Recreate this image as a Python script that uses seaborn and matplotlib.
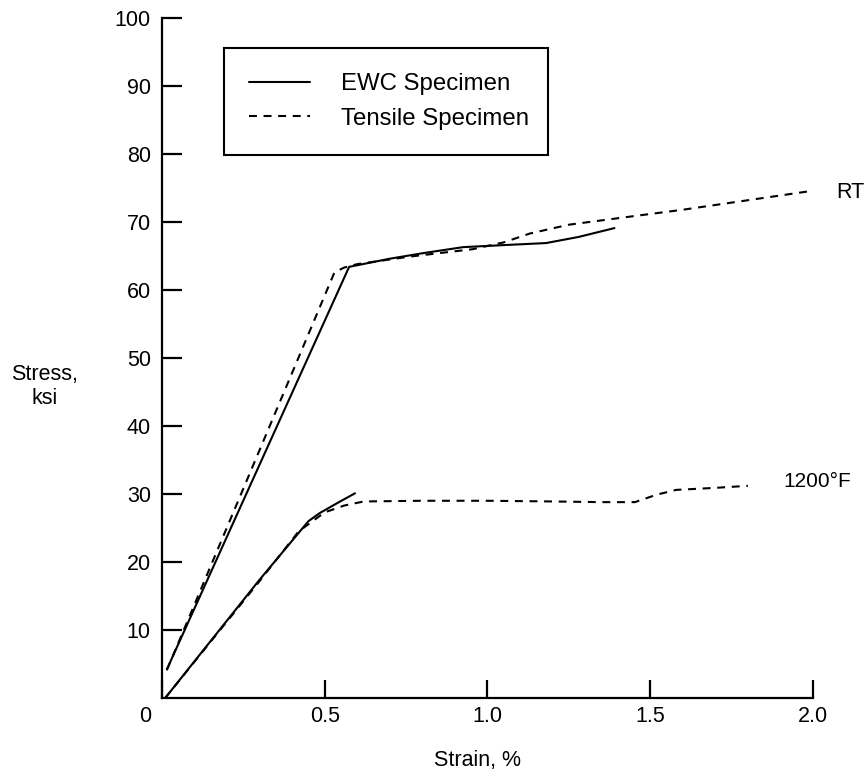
import numpy as np
import pandas as pd
import matplotlib
matplotlib.use("Agg")
import matplotlib.pyplot as plt
import matplotlib.transforms as mtransforms
from matplotlib.lines import Line2D
import seaborn as sns

# ---- data ----
rt_ewc_strain = [0.015, 0.575, 0.70, 0.80, 0.925, 1.05, 1.18, 1.28, 1.39]
rt_ewc_stress = [4.2, 63.4, 64.6, 65.4, 66.3, 66.6, 66.9, 67.8, 69.1]

rt_ten_strain = [0.015, 0.53, 0.56, 0.60, 0.76, 0.955, 1.05, 1.13, 1.25, 1.44, 1.6, 1.8, 2.0]
rt_ten_stress = [4.1, 62.6, 63.3, 63.8, 64.9, 66.0, 67.0, 68.3, 69.6, 70.8, 71.8, 73.2, 74.6]

hot_ewc_strain = [0.01, 0.30, 0.45, 0.485, 0.54, 0.593]
hot_ewc_stress = [0.0, 17.4, 26.0, 27.2, 28.7, 30.1]

hot_ten_strain = [0.01, 0.30, 0.42, 0.50, 0.56, 0.62, 0.80, 1.00, 1.20, 1.35, 1.453, 1.52, 1.58, 1.70, 1.80]
hot_ten_stress = [0.0, 17.2, 24.5, 27.3, 28.3, 28.9, 29.0, 29.0, 28.9, 28.8, 28.8, 29.9, 30.6, 30.9, 31.2]

x_ticks = [0, 0.5, 1.0, 1.5, 2.0]
x_tick_labels = ["0", "0.5", "1.0", "1.5", "2.0"]
y_ticks = [10, 20, 30, 40, 50, 60, 70, 80, 90, 100]
y_tick_labels = ["10", "20", "30", "40", "50", "60", "70", "80", "90", "100"]

series_labels = ["EWC Specimen", "Tensile Specimen"]
curve_labels = ["RT", "1200°F"]

frames = []
for strain, stress, spec, temp in [
    (rt_ewc_strain, rt_ewc_stress, series_labels[0], curve_labels[0]),
    (rt_ten_strain, rt_ten_stress, series_labels[1], curve_labels[0]),
    (hot_ewc_strain, hot_ewc_stress, series_labels[0], curve_labels[1]),
    (hot_ten_strain, hot_ten_stress, series_labels[1], curve_labels[1]),
]:
    frames.append(pd.DataFrame({"strain": strain, "stress": stress,
                                "specimen": spec, "temp": temp}))
df = pd.concat(frames, ignore_index=True)

sns.set_theme(style="ticks")
plt.rcParams['font.family'] = ['Liberation Sans', 'DejaVu Sans']
plt.rcParams['text.color'] = 'black'

FS = 15.5
LFS = 17.3
DASH = (3.8, 3.2)

fig = plt.figure(figsize=(8.68, 7.72), dpi=100)
ax = fig.add_axes([0.1866, 0.0959, 0.75, 0.8808])

sns.lineplot(data=df, x="strain", y="stress", style="specimen", units="temp",
             estimator=None, sort=False, color="black", linewidth=1.5,
             dashes={series_labels[0]: "", series_labels[1]: DASH},
             legend=False, ax=ax)

ax.set_xlim(0, 2.0)
ax.set_ylim(0, 100)
ax.set_xticks(x_ticks)
ax.set_xticklabels(x_tick_labels)
ax.set_yticks(y_ticks)
ax.set_yticklabels(y_tick_labels)

for s in ["top", "right"]:
    ax.spines[s].set_visible(False)
for s in ["left", "bottom"]:
    ax.spines[s].set_linewidth(1.6)
    ax.spines[s].set_color("black")

ax.tick_params(axis="x", direction="in", length=12.7, width=1.6, pad=6,
               labelsize=FS, colors="black")
ax.tick_params(axis="y", direction="in", length=14.4, width=1.6, pad=8,
               labelsize=FS, colors="black")

# shift the "0" label left like the reference
lab0 = ax.get_xticklabels()[0]
lab0.set_transform(lab0.get_transform() +
                   mtransforms.ScaledTranslation(-0.17, 0, fig.dpi_scale_trans))

ax.set_xlabel("Strain, %", fontsize=FS, color="black")
ax.xaxis.set_label_coords(0.484, -0.076)
ax.set_ylabel("Stress,\nksi", fontsize=FS, rotation=0, ha="center",
              va="center", color="black", linespacing=1.2)
ax.yaxis.set_label_coords(-0.18, 0.458)

ax.text(2.07, 74.4, curve_labels[0], fontsize=FS, va="center", ha="left",
        clip_on=False, color="black")
ax.text(1.91, 31.8, curve_labels[1], fontsize=FS - 0.5, va="center", ha="left",
        clip_on=False, color="black")

handles = [Line2D([0], [0], color="black", lw=1.5, linestyle="-"),
           Line2D([0], [0], color="black", lw=1.5, linestyle=(0, DASH))]
leg = ax.legend(handles, series_labels, loc="upper left",
                bbox_to_anchor=(0.095, 0.799, 0.498, 0.157), mode="expand",
                borderaxespad=0, fontsize=LFS, frameon=True, fancybox=False,
                handlelength=2.55, handletextpad=1.27, labelspacing=0.52,
                borderpad=1.05, labelcolor="black")
leg.get_frame().set_edgecolor("black")
leg.get_frame().set_linewidth(1.5)
leg.get_frame().set_alpha(1)

fig.savefig("out.png", dpi=100, facecolor="white")
